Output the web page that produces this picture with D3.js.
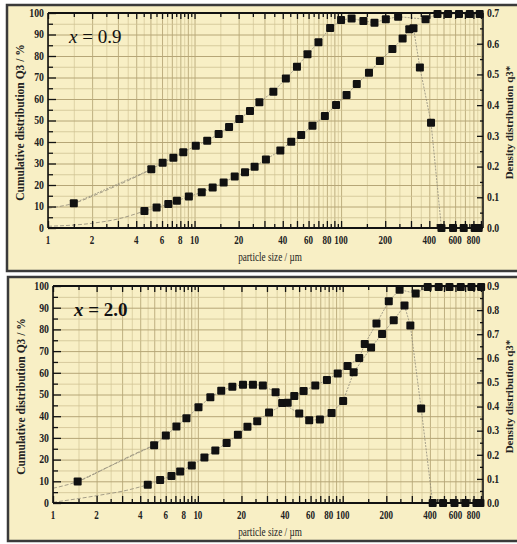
<!DOCTYPE html>
<html>
<head>
<meta charset="utf-8">
<script src="https://cdn.jsdelivr.net/npm/d3@7"></script>
<style>
  body { margin: 0; background: #fff; }
  svg { display: block; }
</style>
</head>
<body>
<svg class="chart" width="517" height="544"></svg>
<script>
// tick labels
var xLabels = [1, 2, 4, 6, 8, 10, 20, 40, 60, 80, 100, 200, 400, 600, 800];
var leftLabels = [0, 10, 20, 30, 40, 50, 60, 70, 80, 90, 100];
var rightLabels1 = [0, 0.1, 0.2, 0.3, 0.4, 0.5, 0.6, 0.7];
var rightLabels2 = [0, 0.1, 0.2, 0.3, 0.4, 0.5, 0.6, 0.7, 0.8, 0.9];

// x = 0.9 : [particle size in um, value on left scale in %]
var p1Upper = [[1.5, 11.5], [5.07, 27.3], [6.06, 30.4], [7.17, 32.7], [8.38, 35.2], [10.2, 38.3],
  [12.2, 40.6], [14.6, 43.7], [17.2, 47.0], [20.2, 50.7], [23.9, 54.4], [27.7, 58.5], [34.5, 63.4],
  [42.0, 69.5], [50.0, 75.0], [59.0, 80.8], [70.1, 86.4], [84.2, 93.0], [100, 96.7], [118, 97.5],
  [142, 96.3], [169, 95.5], [202, 97.1], [245, 98.3], [377, 97.1], [455, 99.5], [537, 99.5],
  [638, 99.5], [755, 99.5], [883, 99.5]];
var p1Lower = [[4.55, 7.9], [5.51, 9.5], [6.62, 11.2], [7.58, 12.7], [9.15, 14.6], [11.2, 16.6],
  [13.3, 18.8], [15.8, 21.2], [18.8, 23.9], [22.1, 25.9], [25.7, 28.5], [30.7, 31.9], [38.5, 36.0],
  [45.7, 40.1], [53.4, 43.3], [63.8, 47.6], [77.5, 52.1], [92.4, 57.2], [109, 61.9], [128, 67.0],
  [155, 72.2], [184, 77.7], [224, 83.3], [263, 88.1], [292, 92.4], [312, 92.9], [345, 74.6],
  [411, 49.0], [484, 0], [581, 0], [687, 0], [816, 0], [869, 0]];
// dashed extrapolation at the small end
var p1UpperFit = [[1, 9.2], [1.5, 11.5], [2.3, 16.5], [3.5, 22], [5.07, 27.3]];
var p1LowerFit = [[1, 0.8], [2, 2.2], [3, 4.2], [4.55, 7.9]];

// x = 2.0
var p2Upper = [[1.48, 9.9], [4.99, 26.6], [6.01, 31.1], [7.11, 35.2], [8.34, 39.1], [10.1, 44.1],
  [12.2, 48.7], [14.5, 51.7], [17.3, 53.6], [20.5, 54.5], [24.0, 54.5], [28.1, 54.2], [34.4, 51.0],
  [38.2, 46.1], [50.1, 41.2], [58.7, 38.1], [69.6, 38.5], [83.8, 41.5], [100.7, 47.0], [119, 60.2],
  [157, 71.7], [187, 77.9], [225, 84.2], [267, 91.0], [293, 81.8], [348, 43.5], [418, 0],
  [493, 0], [591, 0], [703, 0], [838, 0], [893, 0]];
var p2Lower = [[4.51, 8.4], [5.49, 10.6], [6.57, 12.5], [7.55, 14.5], [9.08, 17.3], [11.1, 21.0],
  [13.2, 24.2], [15.8, 27.6], [18.9, 31.5], [22.0, 35.1], [25.7, 37.7], [31.0, 41.7], [41.7, 46.2],
  [46.3, 49.3], [53.7, 51.6], [64.7, 54.2], [77.8, 56.7], [92.4, 59.7], [108, 63.1], [130, 66.8],
  [142, 73.3], [171, 82.7], [208, 93.0], [247, 98.3], [319, 96.6], [386, 99.5], [460, 99.5],
  [546, 99.5], [653, 99.5], [774, 99.5], [903, 99.5]];
var p2UpperFit = [[1, 6.8], [1.48, 9.9], [2.5, 17.2], [3.6, 22.4], [4.99, 26.6]];
var p2LowerFit = [[1, 0.3], [2.1, 3.6], [3.2, 5.8], [4.51, 8.4]];

var panels = [
  {fx: 7, fy: 5, fh: 266, left: 48, right: 483, top: 13, bottom: 228,
   rMax: 0.7, rLabels: rightLabels1, title: "0.9", bold: false,
   upper: p1Upper, lower: p1Lower, upperFit: p1UpperFit, lowerFit: p1LowerFit},
  {fx: 8, fy: 277, fh: 264, left: 53, right: 483, top: 286, bottom: 503,
   rMax: 0.9, rLabels: rightLabels2, title: "2.0", bold: true,
   upper: p2Upper, lower: p2Lower, upperFit: p2UpperFit, lowerFit: p2LowerFit}
];

var xMax = 930;
var bg = "#f8efc5";
var serif = "'Liberation Serif', 'DejaVu Serif', serif";

// minor positions: every half unit of each decade
var minorX = [], majorX = [];
[1, 10, 100].forEach(function(dec) {
  for (var m = 1; m < 10; m += 0.5) {
    if (dec * m > xMax) continue;
    if (m % 1 == 0) majorX.push(dec * m);
    else minorX.push(dec * m);
  }
});
var fives = d3.range(0, 101, 5);
var tens = fives.filter(function(d) { return d % 10 == 0; });
var halfTens = fives.filter(function(d) { return d % 10 != 0; });

var chart = d3.select(".chart");

panels.forEach(function(p) {
  var g = chart.append("g");

  g.append("rect")
    .attr("x", p.fx).attr("y", p.fy)
    .attr("width", 540).attr("height", p.fh)
    .attr("fill", bg)
    .attr("stroke", "#3a3a3a")
    .attr("stroke-width", 2.5);

  var x = d3.scaleLog().domain([1, xMax]).range([p.left, p.right]);
  var y = d3.scaleLinear().domain([0, 100]).range([p.bottom, p.top]);
  var yR = d3.scaleLinear().domain([0, p.rMax]).range([p.bottom, p.top]);
  var w = p.right - p.left, h = p.bottom - p.top;

  // grid
  function grid(axis, values, size, color, sw, tr) {
    g.append("g").attr("transform", tr)
      .call(axis.tickValues(values).tickSize(-size).tickSizeOuter(0).tickFormat(""))
      .call(function(s) {
        s.select(".domain").remove();
        s.selectAll("line").attr("stroke", color).attr("stroke-width", sw);
      });
  }
  grid(d3.axisBottom(x), minorX, h, "#d3c596", 0.7, "translate(0," + p.bottom + ")");
  grid(d3.axisBottom(x), majorX, h, "#b8a878", 0.9, "translate(0," + p.bottom + ")");
  grid(d3.axisLeft(y), halfTens, w, "#cfc193", 0.8, "translate(" + p.left + ",0)");
  grid(d3.axisLeft(y), tens, w, "#b6a677", 1, "translate(" + p.left + ",0)");

  // connecting lines
  var line = d3.line()
    .x(function(d) { return x(d[0]); })
    .y(function(d) { return y(d[1]); });
  var fit = d3.line()
    .x(function(d) { return x(d[0]); })
    .y(function(d) { return y(d[1]); })
    .curve(d3.curveMonotoneX);

  [p.upper, p.lower].forEach(function(s) {
    g.append("path").datum(s)
      .attr("d", line)
      .attr("fill", "none")
      .attr("stroke", "#8f8a7a")
      .attr("stroke-width", 0.8)
      .attr("stroke-dasharray", "2,1.2");
  });
  [p.upperFit, p.lowerFit].forEach(function(s) {
    g.append("path").datum(s)
      .attr("d", fit)
      .attr("fill", "none")
      .attr("stroke", "#9a937f")
      .attr("stroke-width", 0.9)
      .attr("stroke-dasharray", "4,2");
  });

  // ticks pointing inward
  function ticks(axis, values, len, tr) {
    g.append("g").attr("transform", tr)
      .call(axis.tickValues(values).tickSize(-len).tickSizeOuter(0).tickFormat(""))
      .call(function(s) {
        s.select(".domain").remove();
        s.selectAll("line").attr("stroke", "#111").attr("stroke-width", 1.3);
      });
  }
  ticks(d3.axisBottom(x), majorX, 7, "translate(0," + p.bottom + ")");
  ticks(d3.axisBottom(x), minorX, 4, "translate(0," + p.bottom + ")");
  ticks(d3.axisTop(x), majorX, 6, "translate(0," + p.top + ")");
  ticks(d3.axisTop(x), minorX, 4, "translate(0," + p.top + ")");
  ticks(d3.axisLeft(y), tens, 8, "translate(" + p.left + ",0)");
  ticks(d3.axisLeft(y), halfTens, 5, "translate(" + p.left + ",0)");
  ticks(d3.axisRight(yR), d3.range(0, p.rMax + 0.001, 0.1), 6, "translate(" + p.right + ",0)");
  ticks(d3.axisRight(yR), d3.range(0.05, p.rMax, 0.1), 3, "translate(" + p.right + ",0)");

  // axis lines
  g.append("line").attr("x1", p.left).attr("x2", p.right).attr("y1", p.top).attr("y2", p.top)
    .attr("stroke", "#111").attr("stroke-width", 2);
  g.append("line").attr("x1", p.left).attr("x2", p.right).attr("y1", p.bottom).attr("y2", p.bottom)
    .attr("stroke", "#111").attr("stroke-width", 2);
  g.append("line").attr("x1", p.left).attr("x2", p.left).attr("y1", p.top).attr("y2", p.bottom)
    .attr("stroke", "#111").attr("stroke-width", 1.6);
  g.append("line").attr("x1", p.right).attr("x2", p.right).attr("y1", p.top).attr("y2", p.bottom)
    .attr("stroke", "#111").attr("stroke-width", 1.6);

  // tick labels
  g.selectAll(".xl").data(xLabels).enter().append("text")
    .attr("transform", function(d) { return "translate(" + x(d) + "," + (p.bottom + 16) + ") scale(0.78,1)"; })
    .attr("text-anchor", "middle")
    .attr("font-family", serif).attr("font-weight", "bold").attr("font-size", 11.5)
    .attr("fill", "#222")
    .text(function(d) { return d; });

  g.selectAll(".yl").data(leftLabels).enter().append("text")
    .attr("transform", function(d) { return "translate(" + (p.left - 4) + "," + (y(d) + 3.8) + ") scale(0.85,1)"; })
    .attr("text-anchor", "end")
    .attr("font-family", serif).attr("font-weight", "bold").attr("font-size", 11.5)
    .attr("fill", "#222")
    .text(function(d) { return d; });

  g.selectAll(".rl").data(p.rLabels).enter().append("text")
    .attr("transform", function(d) { return "translate(" + (p.right + 4) + "," + (yR(d) + 3.8) + ") scale(0.85,1)"; })
    .attr("text-anchor", "start")
    .attr("font-family", serif).attr("font-weight", "bold").attr("font-size", 11.5)
    .attr("fill", "#222")
    .text(function(d) { return d.toFixed(1); });

  // axis titles
  g.append("text")
    .attr("transform", "translate(" + (p.fx + 17) + "," + ((p.top + p.bottom) / 2 + 2) + ") rotate(-90)")
    .attr("text-anchor", "middle")
    .attr("font-family", serif).attr("font-weight", "bold").attr("font-size", 11.5)
    .attr("fill", "#222")
    .text("Cumulative distribution Q3 / %");

  g.append("text")
    .attr("transform", "translate(" + (p.right + 30) + "," + ((p.top + p.bottom) / 2 + 2) + ") rotate(-90)")
    .attr("text-anchor", "middle")
    .attr("font-family", serif).attr("font-weight", "bold").attr("font-size", 11)
    .attr("fill", "#222")
    .text("Density distribution q3*");

  g.append("text")
    .attr("transform", "translate(" + 270 + "," + (p.bottom + 33) + ") scale(0.8,1)")
    .attr("text-anchor", "middle")
    .attr("font-family", serif).attr("font-size", 11.5)
    .attr("fill", "#222")
    .text("particle size / \u00b5m");

  // panel label
  var lab = g.append("text")
    .attr("x", p.left + 21).attr("y", p.top + 30)
    .attr("font-family", serif).attr("font-size", 19)
    .attr("font-weight", p.bold ? "bold" : "normal")
    .attr("fill", "#111");
  lab.append("tspan").attr("font-style", "italic").text("x");
  lab.append("tspan").text(" = " + p.title);

  // markers
  [p.upper, p.lower].forEach(function(s) {
    g.selectAll(null).data(s).enter().append("rect")
      .attr("x", function(d) { return x(d[0]) - 4; })
      .attr("y", function(d) { return y(d[1]) - 4; })
      .attr("width", 8).attr("height", 8)
      .attr("rx", 1)
      .attr("fill", "#111");
  });
});
</script>
</body>
</html>
